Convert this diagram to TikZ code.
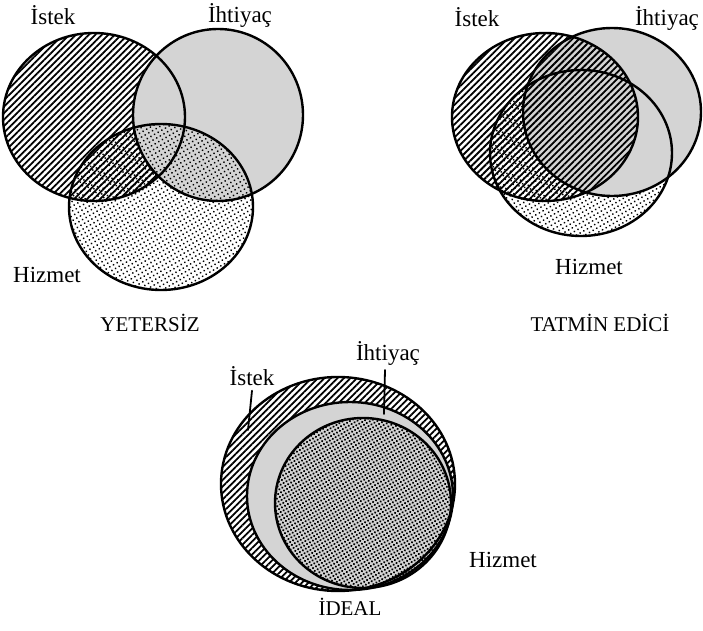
\documentclass[tikz,border=0pt]{standalone}
\usepackage{fontspec}
\setmainfont{Liberation Serif}
\usetikzlibrary{patterns.meta}
\usetikzlibrary{positioning}

\begin{document}
\begin{tikzpicture}[
        x=0.5pt, y=-0.5pt,
        line cap=round,
        line join=round,
        rim/.style={line width=1.2pt},
        istek/.style={pattern={Lines[angle=45,distance=2.3pt,line width=0.9pt]}},
        ihtiyac/.style={fill=black!17},
        hizmet/.style={pattern={Dots[radius=0.5pt,distance=2.1pt,angle=30]}},
        hizmetkoyu/.style={pattern={Dots[radius=0.6pt,distance=1.7pt,angle=30]}},
        lbl/.style={font=\fontsize{11.5}{13}\selectfont},
        title/.style={font=\fontsize{10.5}{12}\selectfont}
    ]
        \useasboundingbox (0,0) rectangle (703,631);

        % Birinci: yetersiz
        \begin{scope}
            \coordinate (y1) at (94,117);
            \coordinate (y2) at (218,115);
            \coordinate (y3) at (161,207);

            \fill[istek] (y1) ellipse [x radius=91, y radius=84];
            \fill[ihtiyac] (y2) ellipse [x radius=85, y radius=86];
            \fill[hizmet] (y3) ellipse [x radius=92, y radius=83];

            \foreach \p/\a/\b in {y1/91/84, y2/85/86, y3/92/83}{
                \draw[rim] (\p) ellipse [x radius=\a, y radius=\b];
            }

            \node[lbl] (yist) at (53,15) {İstek};
            \node[lbl] (yiht) at (240,15) {İhtiyaç};
            \node[lbl] (yhiz) at (47,275) {Hizmet};
            \node[title] (ybas) at (150,323) {YETERSİZ};
        \end{scope}

        % Ikinci: tatmin edici
        \begin{scope}
            \coordinate (t1) at (545,117);
            \coordinate (t2) at (612,112);
            \coordinate (t3) at (581,153);

            \fill[hizmet] (t3) ellipse [x radius=91, y radius=83];
            \fill[ihtiyac] (t2) ellipse [x radius=89, y radius=84];
            \fill[istek] (t1) ellipse [x radius=93, y radius=84];

            \foreach \p/\a/\b in {t1/93/84, t2/89/84, t3/91/83}{
                \draw[rim] (\p) ellipse [x radius=\a, y radius=\b];
            }

            \node[lbl] (tist) at (477,17) {İstek};
            \node[lbl] (tiht) at (667,18) {İhtiyaç};
            \node[lbl] (thiz) at (589,267) {Hizmet};
            \node[title] (tbas) at (600,323) {TATMİN EDİCİ};
        \end{scope}

        % Ucuncu: ideal
        \begin{scope}
            \coordinate (i1) at (338,484);
            \coordinate (i2) at (350,496);
            \coordinate (i3) at (363,503);

            \fill[white] (i1) ellipse [x radius=117, y radius=107];
            \fill[istek] (i1) ellipse [x radius=117, y radius=107];
            \fill[ihtiyac] (i2) ellipse [x radius=103, y radius=94];
            \fill[hizmetkoyu] (i3) ellipse [x radius=88, y radius=85];

            \foreach \p/\a/\b in {i1/117/107, i2/103/94, i3/88/85}{
                \draw[rim] (\p) ellipse [x radius=\a, y radius=\b];
            }

            \node[lbl] (iist) at (252,376) {İstek};
            \node[lbl] (iiht) at (388,353) {İhtiyaç};
            \node[lbl] (ihiz) at (503,560) {Hizmet};
            \node[title] (ibas) at (350,607) {İDEAL};

            \coordinate (iistuc) at (248,430);
            \coordinate (iihtuc) at (384,414);
            \draw[line width=0.9pt] (iist.south) ++(0,-2) -- (iistuc);
            \draw[line width=0.9pt] (iiht.south) ++(-3,-2) -- (iihtuc);
        \end{scope}
    \end{tikzpicture}
\end{document}
